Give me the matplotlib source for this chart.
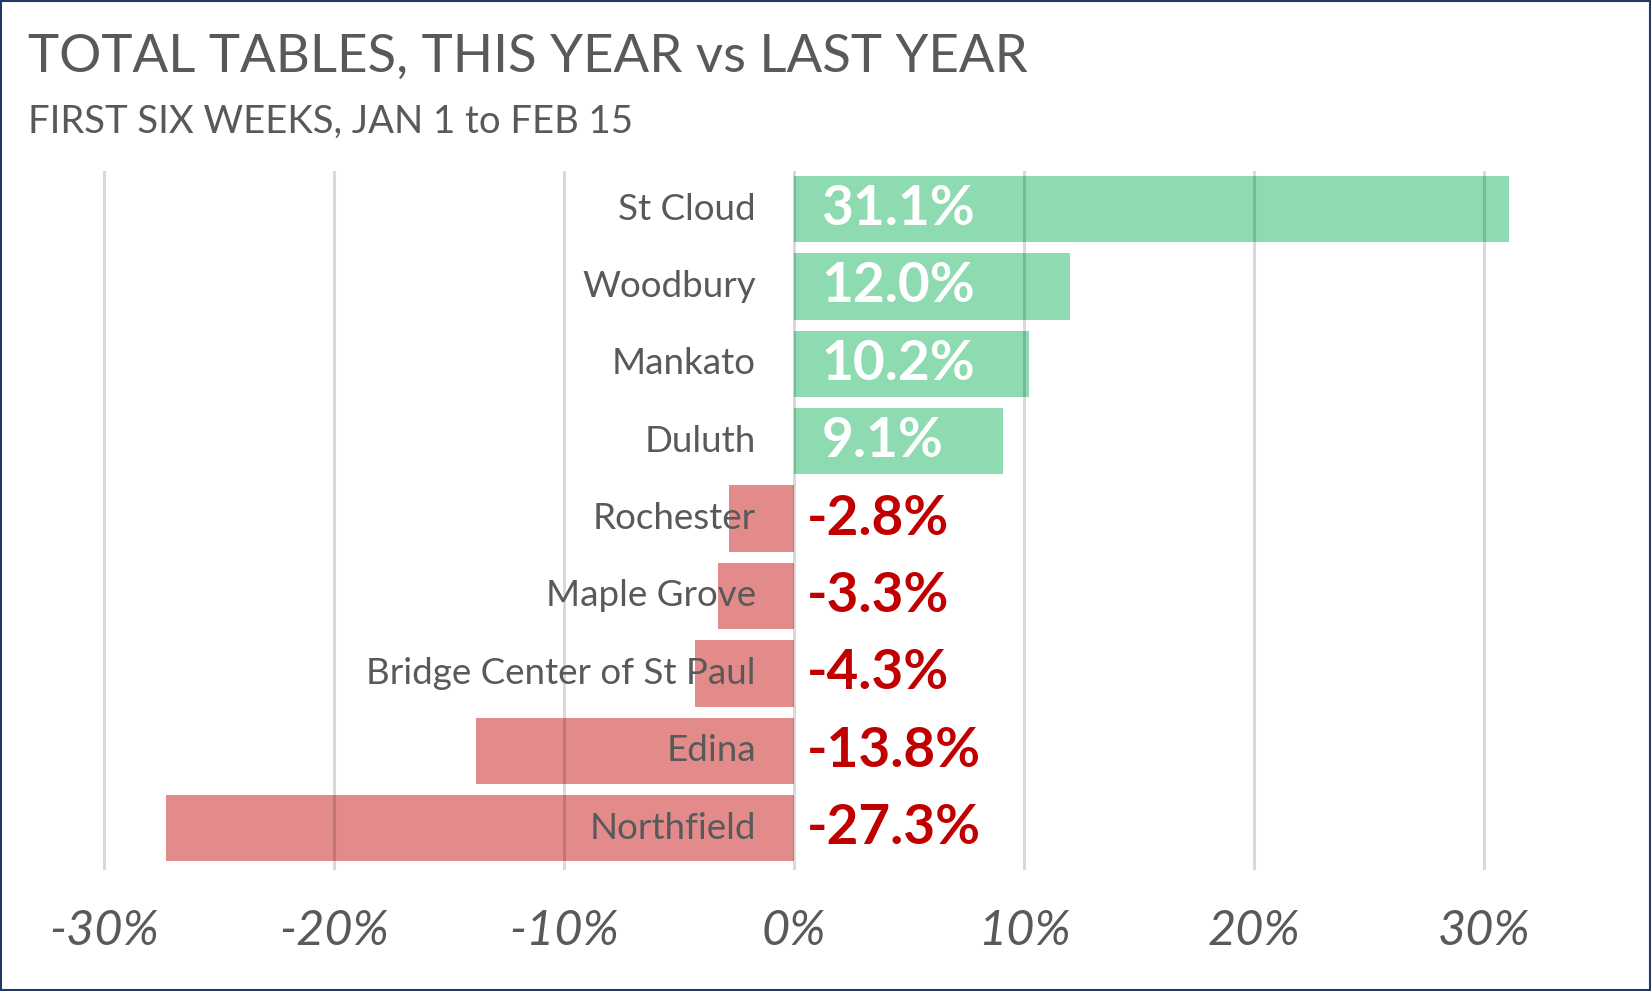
import matplotlib
matplotlib.use('Agg')
import matplotlib.pyplot as plt
from matplotlib.patches import Rectangle
from matplotlib.ticker import FuncFormatter

plt.rcParams['font.family'] = ['Lato', 'DejaVu Sans']
plt.rcParams['axes.unicode_minus'] = False

# data
clubs = ['St Cloud', 'Woodbury', 'Mankato', 'Duluth', 'Rochester', 'Maple Grove',
         'Bridge Center of St Paul', 'Edina', 'Northfield']
change = [31.1, 12.0, 10.2, 9.1, -2.8, -3.3, -4.3, -13.8, -27.3]
xticks = [-30, -20, -10, 0, 10, 20, 30]

gray = '#595959'
green = '#8EDBB2'
red_bar = '#E38B8B'
red_txt = '#C00000'

fig = plt.figure(figsize=(16.51, 9.91), dpi=100)
ax = fig.add_axes([0.03495, 0.12221, 0.93364, 0.70563])

pos = list(range(len(clubs)))
colors = [green if v > 0 else red_bar for v in change]
ax.barh(pos, change, height=0.857, color=colors, zorder=1)

ax.set_xlim(-32, 35)
ax.set_ylim(8.54, -0.497)
ax.set_xticks(xticks)
ax.xaxis.set_major_formatter(FuncFormatter(lambda v, p: f'{v:.0f}%'))
ax.set_yticks([])
ax.tick_params(axis='x', length=0, pad=28, labelsize=35, labelcolor=gray)
for lab in ax.get_xticklabels():
    lab.set_fontstyle('italic')
for s in ax.spines.values():
    s.set_visible(False)
ax.set_axisbelow(False)
ax.grid(axis='x', color='black', alpha=0.15, linewidth=2.2)

for i, (name, v) in enumerate(zip(clubs, change)):
    ax.text(-1.65, i, name, ha='right', va='center', fontsize=26.5, color=gray)
    if v > 0:
        ax.text(1.2, i, f'{v:.1f}%', ha='left', va='center', fontsize=39.5,
                fontweight='bold', color='white')
    else:
        ax.text(0.55, i, f'{v:.1f}%', ha='left', va='center', fontsize=39.5,
                fontweight='bold', color=red_txt)

fig.text(0.0172, 0.9275, 'TOTAL TABLES, THIS YEAR vs LAST YEAR', fontsize=38,
         color=gray, va='baseline')
fig.text(0.0172, 0.866, 'FIRST SIX WEEKS, JAN 1 to FEB 15', fontsize=27.5,
         color=gray, va='baseline')

fig.patches.append(Rectangle((0.0006, 0.001), 0.9988, 0.998, transform=fig.transFigure,
                             fill=False, edgecolor='#1F3864', linewidth=1.5))

fig.savefig('out.png', dpi=100)
